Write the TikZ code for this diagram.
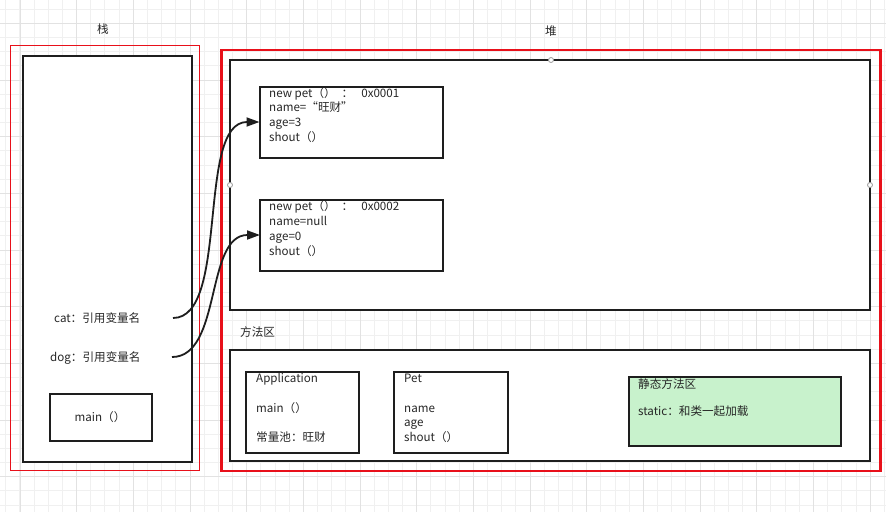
\documentclass[tikz,border=0pt]{standalone}
\usepackage{fontspec}
\setmainfont{Noto Sans CJK SC}
\usetikzlibrary{arrows.meta}
\definecolor{redline}{HTML}{E8101A}
\definecolor{boxline}{HTML}{1E1E1E}
\definecolor{greenfill}{HTML}{C8F2CC}
\definecolor{gridminor}{HTML}{F0F0F0}
\definecolor{gridmajor}{HTML}{E2E2E2}
\definecolor{handle}{HTML}{9A9A9A}
\tikzset{
  box/.style={draw=boxline, line width=2pt, fill=white},
  redthin/.style={draw=redline, line width=1.2pt},
  redthick/.style={draw=redline, line width=2.6pt},
  txt/.style={anchor=west, inner sep=0pt, text height=8.5pt, text depth=2.5pt, font=\fontsize{11.6}{14}\selectfont, text=black!85},
  ctxt/.style={anchor=center, inner sep=0pt, text height=8.5pt, text depth=2.5pt, font=\fontsize{11.6}{14}\selectfont, text=black!85},
  hdl/.style={draw=handle, fill=white, line width=0.8pt, circle, inner sep=0pt, minimum size=5pt},
  ptr/.style={draw=boxline, line width=1.8pt, -{Triangle[length=13pt,width=9pt]}},
}
\begin{document}
\begin{tikzpicture}[x=1pt,y=-1pt]
\useasboundingbox (0,0) rectangle (886,512);
\fill[white] (0,0) rectangle (886,512);
% grid
\foreach \i in {0,...,62} \draw[gridminor, line width=0.8pt] ({5.7+14.17*\i},0) -- ++(0,512);
\foreach \j in {0,...,35} \draw[gridminor, line width=0.8pt] (0,{9.1+14.17*\j}) -- ++(886,0);
\foreach \i in {0,...,15} \draw[gridmajor, line width=0.8pt] ({20+56.67*\i},0) -- ++(0,512);
\foreach \j in {0,...,8} \draw[gridmajor, line width=0.8pt] (0,{23.3+56.67*\j}) -- ++(886,0);

% stack
\node[ctxt] (stacklbl) at (103,30) {栈};
\draw[redthin] (10.5,45.5) rectangle (199.5,470.5);
\draw[box] (22.7,56) rectangle (192.3,461.5);
\node[txt] (cat) at (54,319) {cat：引用变量名};
\node[txt] (dog) at (50,358) {dog：引用变量名};
\coordinate (catend) at (173,318);
\coordinate (dogend) at (172,357);
\draw[box] (50,394.3) rectangle (152,440.7);
\node[ctxt] (main) at (100,418) {main（）};

% heap
\node[ctxt] (heaplbl) at (551,32) {堆};
\draw[redthick] (221.3,50) rectangle (880.5,471);
\draw[box] (230,60) rectangle (870,310);
\node[hdl] (h1) at (230,185) {};
\node[hdl] (h2) at (551,60) {};
\node[hdl] (h3) at (870,185) {};

% object 1
\draw[box] (259.5,87) rectangle (443,158);
\coordinate (ob1) at (259.5,122);
\node[txt] (o1a) at (269,94) {new pet（）\hspace{6pt}：\hspace{8pt}0x0001};
\node[txt] (o1b) at (269,108.7) {name=“旺财”};
\node[txt] (o1c) at (269,123.4) {age=3};
\node[txt] (o1d) at (269,138.1) {shout（）};

% object 2
\draw[box] (260,199.5) rectangle (443,270.5);
\coordinate (ob2) at (260,235);
\node[txt] (o2a) at (269,207) {new pet（）\hspace{6pt}：\hspace{8pt}0x0002};
\node[txt] (o2b) at (269,222) {name=null};
\node[txt] (o2c) at (269,237) {age=0};
\node[txt] (o2d) at (269,252) {shout（）};

% method area
\node[txt] (malbl) at (240,333) {方法区};
\draw[box] (230,350) rectangle (870,461);

\draw[box] (245.7,371.5) rectangle (359.3,453.3);
\node[txt] (a1) at (256,379.5) {Application};
\node[txt] (a2) at (256,409) {main（）};
\node[txt] (a3) at (256,438.5) {常量池：旺财};

\draw[box] (394,371.5) rectangle (508,453.3);
\node[txt] (p1) at (404,379.5) {Pet};
\node[txt] (p2) at (404,409) {name};
\node[txt] (p3) at (404,423.5) {age};
\node[txt] (p4) at (404,438.5) {shout（）};

\draw[box, fill=greenfill] (629,377) rectangle (841.3,445.7);
\node[txt] (s1) at (638,385) {静态方法区};
\node[txt] (s2) at (638,412) {static：和类一起加载};

% pointers
\draw[ptr] (catend) .. controls (230,318) and (196,122) .. (ob1);
\draw[ptr] (dogend) .. controls (222,357) and (205,235) .. (ob2);
\end{tikzpicture}
\end{document}
